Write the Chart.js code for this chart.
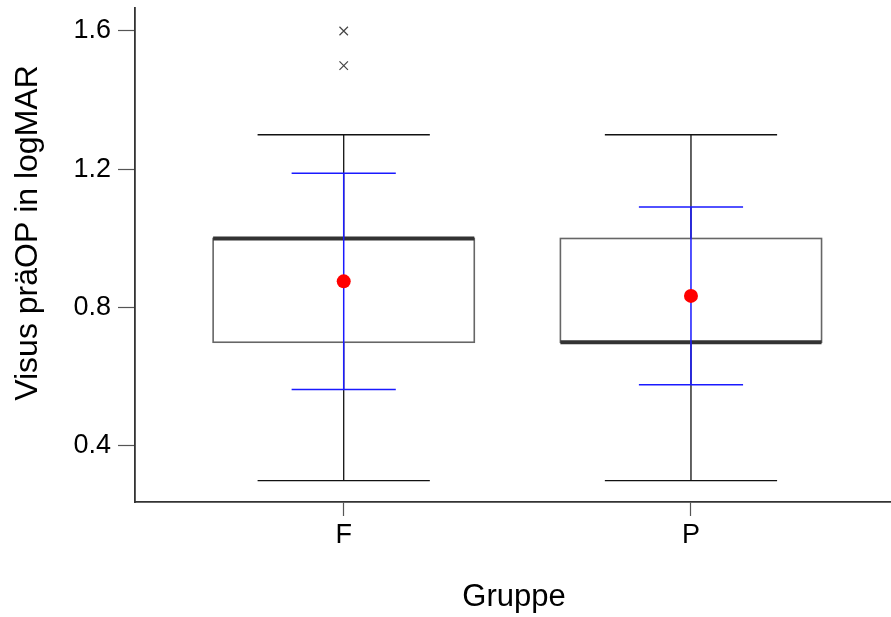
<!DOCTYPE html>
<html>
<head>
<meta charset="utf-8">
<script src="https://cdn.jsdelivr.net/npm/chart.js@4"></script>
<style>
  html,body{margin:0;padding:0;background:#fff;}
  #wrap{width:891px;height:617px;}
</style>
</head>
<body>
<div id="wrap"><canvas id="c" width="891" height="617"></canvas></div>
<script>
// ---- data ----
const groups = ['F', 'P'];
const whiskerLow = [0.3, 0.3];
const q1 = [0.7, 0.7];
const median = [1.0, 0.7];
const q3 = [1.0, 1.0];
const whiskerHigh = [1.3, 1.3];
const means = [0.876, 0.834];
const sds = [0.313, 0.257];
const outliersF = [1.5, 1.6];
const outliersP = [];
const yTicks = [0.4, 0.8, 1.2, 1.6];
const yTitle = 'Visus präOP in logMAR';
const xTitle = 'Gruppe';

// ---- styles ----
const BOX_HALF = 0.376, CAP_HALF = 0.248, SD_HALF = 0.15;
const FONT = '"Liberation Sans", Arial, sans-serif';

const meanPoints = means.map((m, i) => ({x: i + 1, y: m}));
const outlierPoints = [
  ...outliersF.map(v => ({x: 1, y: v})),
  ...outliersP.map(v => ({x: 2, y: v}))
];

const boxPlugin = {
  id: 'boxes',
  beforeDatasetsDraw(chart) {
    const {ctx, scales: {x, y}} = chart;
    ctx.save();
    groups.forEach((g, i) => {
      const cx = x.getPixelForValue(i + 1);
      const bl = x.getPixelForValue(i + 1 - BOX_HALF);
      const br = x.getPixelForValue(i + 1 + BOX_HALF);
      const cl = x.getPixelForValue(i + 1 - CAP_HALF);
      const cr = x.getPixelForValue(i + 1 + CAP_HALF);
      const yq1 = y.getPixelForValue(q1[i]);
      const yq3 = y.getPixelForValue(q3[i]);
      const ylo = y.getPixelForValue(whiskerLow[i]);
      const yhi = y.getPixelForValue(whiskerHigh[i]);
      const ymed = y.getPixelForValue(median[i]);
      // whiskers
      ctx.strokeStyle = '#111';
      ctx.lineWidth = 1.3;
      ctx.beginPath();
      ctx.moveTo(cx, yhi); ctx.lineTo(cx, yq3);
      ctx.moveTo(cx, yq1); ctx.lineTo(cx, ylo);
      ctx.moveTo(cl, yhi); ctx.lineTo(cr, yhi);
      ctx.moveTo(cl, ylo); ctx.lineTo(cr, ylo);
      ctx.stroke();
      // box
      ctx.strokeStyle = '#666';
      ctx.lineWidth = 1.6;
      ctx.strokeRect(bl, yq3, br - bl, yq1 - yq3);
      // median
      ctx.strokeStyle = '#333';
      ctx.lineWidth = 4;
      ctx.beginPath();
      ctx.moveTo(bl, ymed); ctx.lineTo(br, ymed);
      ctx.stroke();
      // mean +/- SD
      const sl = x.getPixelForValue(i + 1 - SD_HALF);
      const sr = x.getPixelForValue(i + 1 + SD_HALF);
      const ysh = y.getPixelForValue(means[i] + sds[i]);
      const ysl = y.getPixelForValue(means[i] - sds[i]);
      ctx.strokeStyle = '#1a1aff';
      ctx.lineWidth = 1.5;
      ctx.beginPath();
      ctx.moveTo(cx, ysh); ctx.lineTo(cx, ysl);
      ctx.moveTo(sl, ysh); ctx.lineTo(sr, ysh);
      ctx.moveTo(sl, ysl); ctx.lineTo(sr, ysl);
      ctx.stroke();
    });
    ctx.restore();
  },
  afterDraw(chart) {
    const {ctx, scales: {x}} = chart;
    ctx.save();
    ctx.fillStyle = '#000';
    ctx.font = '31px ' + FONT;
    ctx.textAlign = 'center';
    ctx.textBaseline = 'alphabetic';
    ctx.fillText(xTitle, (x.left + x.right) / 2 + 1, 606);
    ctx.font = '32px ' + FONT;
    ctx.translate(37, 233);
    ctx.rotate(-Math.PI / 2);
    ctx.fillText(yTitle, 0, 0);
    ctx.restore();
  }
};

new Chart(document.getElementById('c'), {
  type: 'scatter',
  data: {
    datasets: [
      {
        label: 'Mittelwert',
        data: meanPoints,
        pointStyle: 'circle',
        pointRadius: 7,
        pointHoverRadius: 7,
        backgroundColor: '#ff0000',
        borderColor: '#ff0000',
        borderWidth: 0
      },
      {
        label: 'Ausreißer',
        data: outlierPoints,
        pointStyle: 'crossRot',
        pointRadius: 6,
        pointHoverRadius: 6,
        borderColor: '#444',
        borderWidth: 1.2
      }
    ]
  },
  options: {
    responsive: false,
    animation: false,
    events: [],
    layout: {autoPadding: false, padding: {top: 8, right: 0, left: 0, bottom: 0}},
    plugins: {legend: {display: false}, tooltip: {enabled: false}},
    scales: {
      x: {
        type: 'linear',
        min: 0.399,
        max: 2.576,
        afterBuildTicks: s => { s.ticks = groups.map((g, i) => ({value: i + 1})); },
        afterFit: s => { s.height = 115; s.paddingLeft = 0; s.paddingRight = 0; },
        ticks: {
          callback: v => groups[v - 1] || '',
          font: {family: FONT, size: 27},
          color: '#000',
          padding: 3,
          maxRotation: 0,
          autoSkip: false
        },
        grid: {drawOnChartArea: false, drawTicks: true, tickLength: 14, tickColor: '#555', tickWidth: 1.2},
        border: {display: true, color: '#333', width: 1.8}
      },
      y: {
        type: 'linear',
        min: 0.238,
        max: 1.6665,
        afterBuildTicks: s => { s.ticks = yTicks.map(v => ({value: v})); },
        afterFit: s => { s.width = 135; s.paddingTop = 0; s.paddingBottom = 0; },
        ticks: {
          callback: v => v.toFixed(1),
          font: {family: FONT, size: 27},
          color: '#000',
          padding: 7
        },
        grid: {drawOnChartArea: false, drawTicks: true, tickLength: 17, tickColor: '#555', tickWidth: 1.2},
        border: {display: true, color: '#333', width: 1.8}
      }
    }
  },
  plugins: [boxPlugin]
});
</script>
</body>
</html>
